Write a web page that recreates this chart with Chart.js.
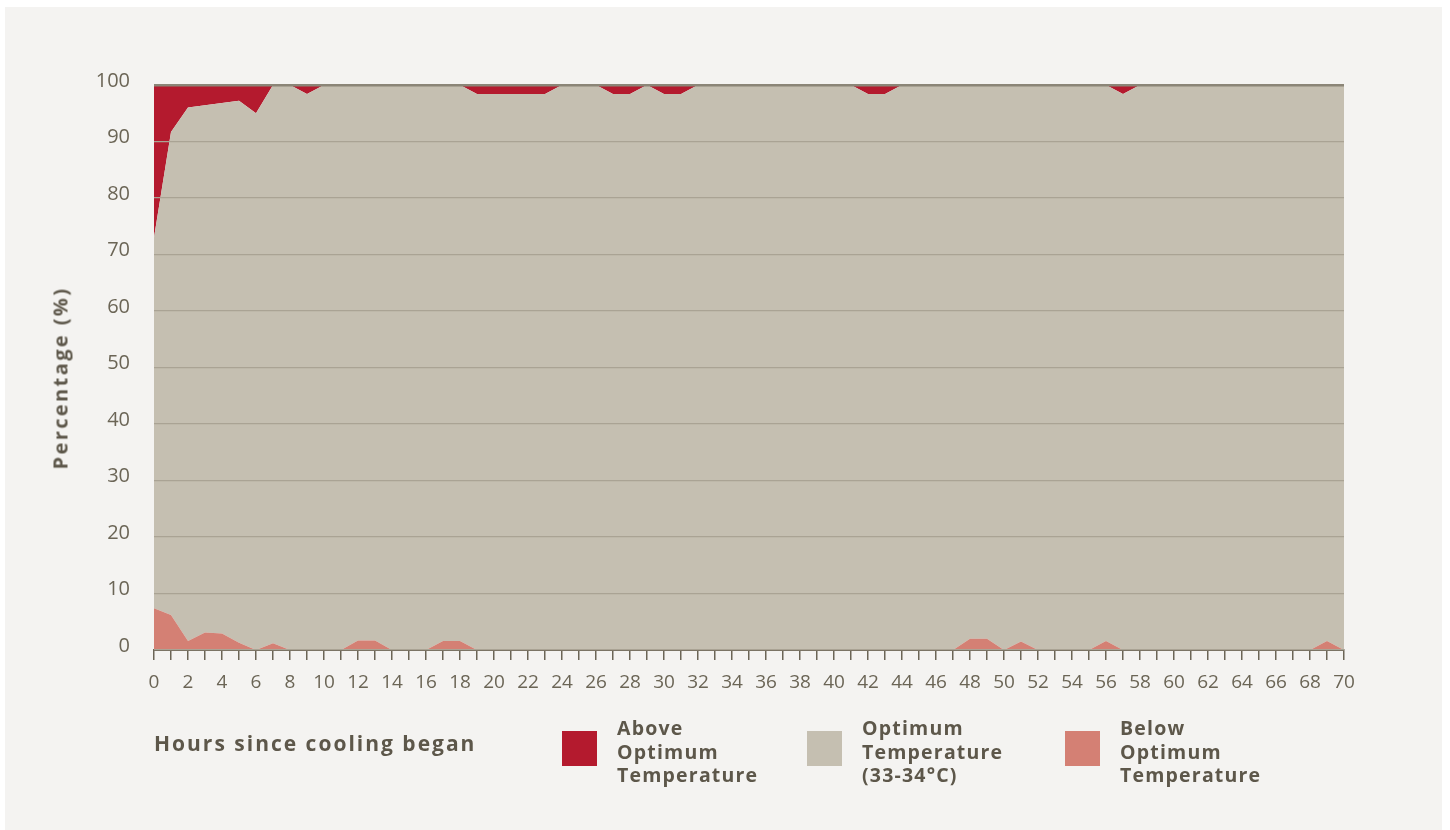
<!DOCTYPE html>
<html>
<head>
<meta charset="utf-8">
<script src="https://cdn.jsdelivr.net/npm/chart.js@4"></script>
<style>
  body { margin: 0; background: #ffffff; font-family: "Open Sans", "Noto Sans", sans-serif; }
  #panel { position: absolute; left: 5px; top: 7px; width: 1437px; height: 823px; background: #f4f3f1; }
  #chart { position: absolute; left: 0; top: 0; }
  .xtitle { position: absolute; left: 149px; top: 722px; font-weight: bold; font-size: 21px; letter-spacing: 2px; color: #5d574a; }
  .ytitle { position: absolute; left: 55px; top: 371px; transform: translate(-50%, -50%) rotate(-90deg); white-space: nowrap;
            font-weight: bold; font-size: 20px; letter-spacing: 2.4px; color: #5d574a; }
  .leg { position: absolute; top: 709px; display: flex; }
  .leg .sw { width: 35px; height: 35px; margin-top: 15px; margin-right: 20px; }
  .leg .tx { font-weight: bold; font-size: 19.5px; line-height: 23.5px; letter-spacing: 1.2px; color: #5d574a; }
</style>
</head>
<body>
<div id="panel">
  <canvas id="chart" width="1437" height="823"></canvas>
  <div class="ytitle">Percentage (%)</div>
  <div class="xtitle">Hours since cooling began</div>
  <div class="leg" style="left:557px"><div class="sw" style="background:#b41a2e"></div><div class="tx">Above<br>Optimum<br>Temperature</div></div>
  <div class="leg" style="left:802px"><div class="sw" style="background:#c5bfb1"></div><div class="tx">Optimum<br>Temperature<br>(33-34°C)</div></div>
  <div class="leg" style="left:1060px"><div class="sw" style="background:#d48074"></div><div class="tx">Below<br>Optimum<br>Temperature</div></div>
</div>
<script>
// hours since cooling began
var hours = [];
for (var h = 0; h <= 70; h++) hours.push(h);

// % of readings below optimum (bottom band)
var below = [7.4, 6.2, 1.6, 3.1, 2.9, 1.3, 0, 1.2, 0, 0,
             0, 0, 1.7, 1.7, 0, 0, 0, 1.6, 1.6, 0,
             0, 0, 0, 0, 0, 0, 0, 0, 0, 0,
             0, 0, 0, 0, 0, 0, 0, 0, 0, 0,
             0, 0, 0, 0, 0, 0, 0, 0, 2.0, 2.0,
             0, 1.5, 0, 0, 0, 0, 1.6, 0, 0, 0,
             0, 0, 0, 0, 0, 0, 0, 0, 0, 1.6,
             0];

// % of readings in optimum range 33-34 C (middle band)
var optimum = [65.6, 85.5, 94.4, 93.3, 93.9, 95.9, 95.0, 98.8, 100, 98.4,
               100, 100, 98.3, 98.3, 100, 100, 100, 98.4, 98.4, 98.4,
               98.4, 98.4, 98.4, 98.4, 100, 100, 100, 98.4, 98.4, 100,
               98.4, 98.4, 100, 100, 100, 100, 100, 100, 100, 100,
               100, 100, 98.4, 98.4, 100, 100, 100, 100, 98.0, 98.0,
               100, 98.5, 100, 100, 100, 100, 98.4, 98.4, 100, 100,
               100, 100, 100, 100, 100, 100, 100, 100, 100, 98.4,
               100];

// % of readings above optimum (top band)
var above = [27.0, 8.3, 4.0, 3.6, 3.2, 2.8, 5.0, 0, 0, 1.6,
             0, 0, 0, 0, 0, 0, 0, 0, 0, 1.6,
             1.6, 1.6, 1.6, 1.6, 0, 0, 0, 1.6, 1.6, 0,
             1.6, 1.6, 0, 0, 0, 0, 0, 0, 0, 0,
             0, 0, 1.6, 1.6, 0, 0, 0, 0, 0, 0,
             0, 0, 0, 0, 0, 0, 0, 1.6, 0, 0,
             0, 0, 0, 0, 0, 0, 0, 0, 0, 0,
             0];

var textCol = '#6b6556';

function area(label, data, color, fill) {
  return {
    label: label,
    data: data,
    backgroundColor: color,
    borderWidth: 0,
    pointRadius: 0,
    tension: 0,
    fill: fill
  };
}

new Chart(document.getElementById('chart'), {
  type: 'line',
  data: {
    labels: hours,
    datasets: [
      area('Below Optimum Temperature', below, '#d48074', 'origin'),
      area('Optimum Temperature (33-34°C)', optimum, '#c5bfb1', '-1'),
      area('Above Optimum Temperature', above, '#b41a2e', '-1')
    ]
  },
  options: {
    responsive: false,
    animation: false,
    layout: { padding: { top: 78, right: 98, bottom: 120, left: 0 } },
    plugins: { legend: { display: false }, tooltip: { enabled: false } },
    scales: {
      x: {
        type: 'linear',
        min: 0,
        max: 70,
        afterFit: function (s) { s.height = 60; },
        ticks: {
          stepSize: 1,
          autoSkip: false,
          maxRotation: 0,
          padding: 11,
          color: textCol,
          font: { family: 'Open Sans', size: 19 },
          callback: function (v) { return v % 2 === 0 ? v : ''; }
        },
        grid: { drawOnChartArea: false, drawTicks: true, tickLength: 10, color: textCol, lineWidth: 1.5 },
        border: { color: textCol, width: 2 }
      },
      y: {
        stacked: true,
        min: 0,
        max: 100,
        afterFit: function (s) { s.width = 149; },
        ticks: {
          stepSize: 10,
          padding: 24,
          labelOffset: -4,
          color: textCol,
          font: { family: 'Open Sans', size: 20 }
        },
        grid: {
          z: 1,
          drawTicks: false,
          color: function (c) { return c.tick.value === 100 ? '#8b8577' : '#aaa394'; },
          lineWidth: function (c) { return c.tick.value === 100 ? 2.5 : 1.2; }
        },
        border: { display: false }
      }
    }
  }
});
</script>
</body>
</html>
